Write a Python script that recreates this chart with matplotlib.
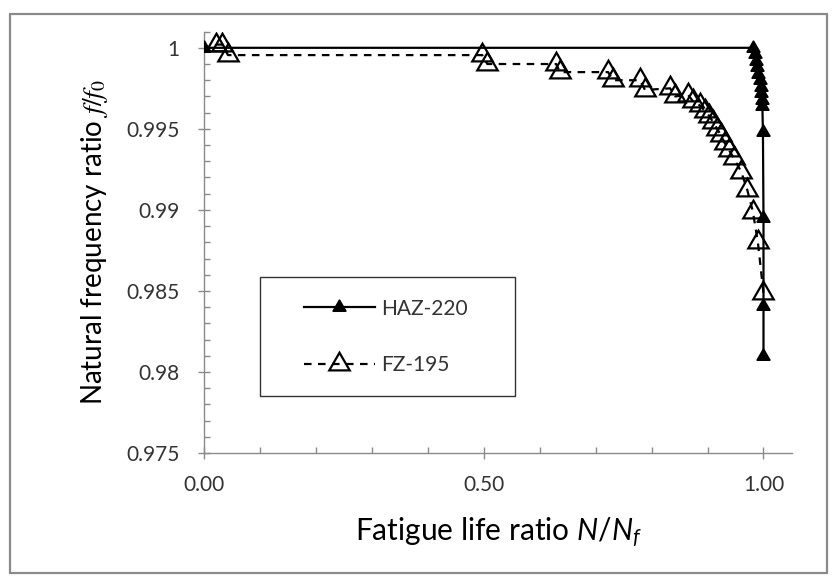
import matplotlib
matplotlib.use("Agg")
import matplotlib.pyplot as plt
from matplotlib.patches import Rectangle
from matplotlib.ticker import MultipleLocator, FixedLocator, FixedFormatter

# ---- data ----
haz_x = [0.0, 0.981, 0.984, 0.987, 0.989, 0.991, 0.993, 0.995, 0.996, 0.997, 0.998,
         0.999, 1.0, 1.0, 1.0]
haz_y = [1.0, 1.0, 0.9996, 0.9992, 0.9988, 0.9984, 0.9980, 0.9976, 0.9972, 0.9968, 0.9964,
         0.9948, 0.9895, 0.9841, 0.9810]

fz_x = [0.021, 0.032, 0.042, 0.497, 0.506, 0.629, 0.636, 0.722, 0.731, 0.779, 0.788,
        0.833, 0.842, 0.865, 0.874, 0.886, 0.895, 0.903, 0.910, 0.917, 0.924, 0.931,
        0.938, 0.947, 0.960, 0.971, 0.981, 0.990, 1.0]
fz_y = [1.0002, 1.0002, 0.99955, 0.99955, 0.9990, 0.9990, 0.9985, 0.9985, 0.9980, 0.9980,
        0.9974, 0.9975, 0.9970, 0.9971, 0.9967, 0.99645, 0.9961, 0.9958, 0.9954, 0.9950,
        0.9946, 0.9941, 0.9937, 0.9932, 0.99236, 0.99123, 0.9899, 0.9880, 0.98485]

series_labels = ["HAZ-220", "FZ-195"]
x_ticks = [0.0, 0.5, 1.0]
x_tick_labels = ["0.00", "0.50", "1.00"]
y_ticks = [0.975, 0.98, 0.985, 0.99, 0.995, 1.0]
y_tick_labels = ["0.975", "0.98", "0.985", "0.99", "0.995", "1"]

# ---- figure ----
plt.rcParams['font.family'] = ['Lato', 'DejaVu Sans']
plt.rcParams['mathtext.fontset'] = 'custom'
plt.rcParams['mathtext.it'] = 'Lato:italic'
plt.rcParams['mathtext.rm'] = 'Lato'

W, H = 837, 576
fig = plt.figure(figsize=(W / 100, H / 100), dpi=100)
fig.patch.set_facecolor('white')

# chart-area border
fig.patches.append(Rectangle((10.5 / W, 1 - 573 / H), (827.5 - 10.5) / W, (573 - 14) / H,
                             transform=fig.transFigure, fill=False,
                             edgecolor='#8a8a8a', linewidth=1.6))

ax_l, ax_r = 204.5, 792.0
ax_t, ax_b = 31.6, 453.0
ax = fig.add_axes([ax_l / W, 1 - ax_b / H, (ax_r - ax_l) / W, (ax_b - ax_t) / H])

tri = (3, 0, 0)
dash = (0, (3.4, 2.9))
ax.plot(haz_x, haz_y, color='black', linewidth=1.6, marker=tri, markersize=11,
        markerfacecolor='black', markeredgecolor='black', label=series_labels[0], zorder=3)
ax.plot(fz_x, fz_y, color='black', linewidth=1.6, linestyle=dash,
        marker=tri, markersize=17, markerfacecolor='none', markeredgecolor='black',
        markeredgewidth=1.6, label=series_labels[1], zorder=4)

ax.set_xlim(0, 1.051)
ax.set_ylim(0.975, 1.001)

for s in ['top', 'right']:
    ax.spines[s].set_visible(False)
for s in ['left', 'bottom']:
    ax.spines[s].set_color('#8a8a8a')
    ax.spines[s].set_linewidth(1.0)

ax.xaxis.set_major_locator(FixedLocator(x_ticks))
ax.xaxis.set_major_formatter(FixedFormatter(x_tick_labels))
ax.xaxis.set_minor_locator(MultipleLocator(0.1))
ax.yaxis.set_major_locator(FixedLocator(y_ticks))
ax.yaxis.set_major_formatter(FixedFormatter(y_tick_labels))
ax.yaxis.set_minor_locator(MultipleLocator(0.001))

ax.tick_params(which='major', direction='inout', length=8, width=1.0, color='#8a8a8a',
               labelsize=15, labelcolor='#333333')
ax.tick_params(which='minor', direction='in', length=4, width=1.0, color='#8a8a8a')
ax.tick_params(axis='x', which='major', pad=12)
ax.tick_params(axis='y', which='major', pad=14)

ax.set_xlabel(r"Fatigue life ratio $N/N_f$", fontsize=21.5, color='black')
ax.xaxis.set_label_coords(0.501, -0.148)
ax.set_ylabel(r"Natural frequency ratio $f/f_0$", fontsize=20, color='black')
ax.yaxis.label.set_math_fontfamily('stix')
ax.yaxis.set_label_coords(-0.16, 0.5)

# legend
lx0, lx1 = (260.5 - ax_l) / (ax_r - ax_l), (515 - ax_l) / (ax_r - ax_l)
ly0, ly1 = (ax_b - 395.7) / (ax_b - ax_t), (ax_b - 277) / (ax_b - ax_t)
ax.add_patch(Rectangle((lx0, ly0), lx1 - lx0, ly1 - ly0, transform=ax.transAxes,
                       fill=True, facecolor='white', edgecolor='#333333', linewidth=1.0,
                       zorder=5))
leg = ax.legend(loc='center left', bbox_to_anchor=((304 - ax_l) / (ax_r - ax_l), 0.2759),
                frameon=False, fontsize=15, handlelength=3.4, handletextpad=0.3,
                labelspacing=1.75, borderpad=0, borderaxespad=0)
leg.set_zorder(6)
for t in leg.get_texts():
    t.set_color('#333333')

fig.savefig("out.png", dpi=100)
